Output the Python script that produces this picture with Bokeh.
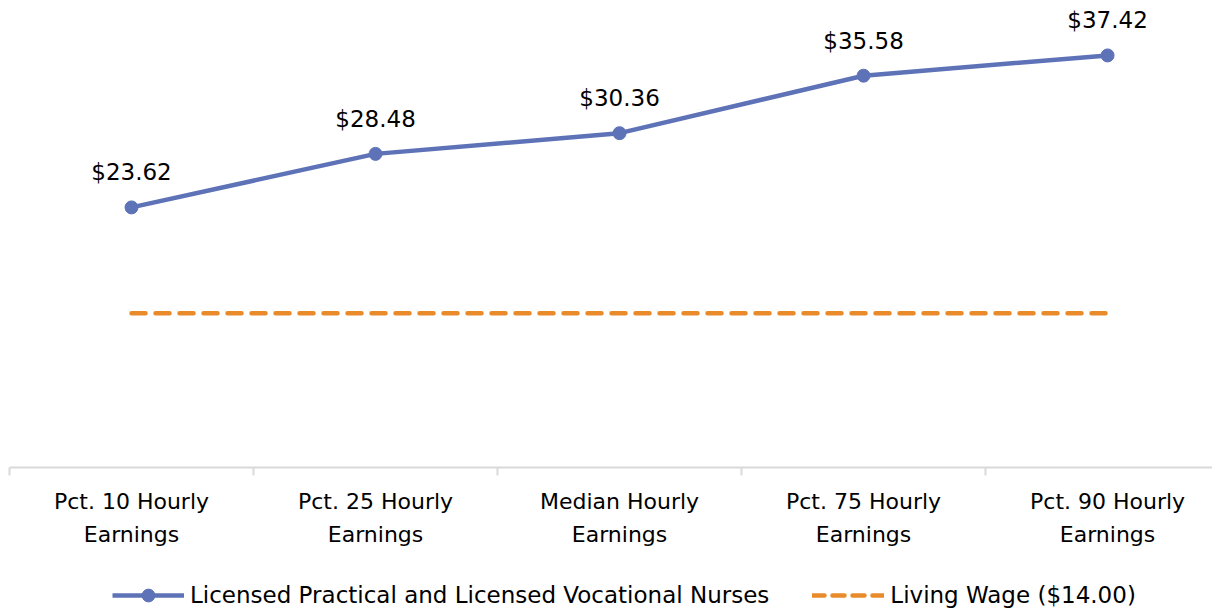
from bokeh.plotting import figure
from bokeh.layouts import column
from bokeh.models import ColumnDataSource, Range1d, FixedTicker, Legend, LegendItem, LabelSet
from bokeh.core.properties import value
from bokeh.embed import file_html
from bokeh.resources import INLINE

categories = ["Pct. 10 Hourly\nEarnings", "Pct. 25 Hourly\nEarnings", "Median Hourly\nEarnings",
              "Pct. 75 Hourly\nEarnings", "Pct. 90 Hourly\nEarnings"]
nurse_wages = [23.62, 28.48, 30.36, 35.58, 37.42]
living_wage = [14.00, 14.00, 14.00, 14.00, 14.00]
wage_labels = ["$23.62", "$28.48", "$30.36", "$35.58", "$37.42"]
series_names = ["Licensed Practical and Licensed Vocational Nurses", "Living Wage ($14.00)"]

FONT = "DejaVu Sans"
BLUE = "#5E73B7"
ORANGE = "#E98A2B"

xs = list(range(len(categories)))
src = ColumnDataSource(dict(x=xs, y=nurse_wages, lw=living_wage, lab=wage_labels))

p = figure(frame_width=1203, frame_height=457, output_backend="svg", toolbar_location=None,
           x_range=Range1d(-0.5, 4.43), y_range=Range1d(0, 41.5),
           min_border_left=9, min_border_right=0, min_border_top=10, min_border_bottom=105)
p.outline_line_color = None
p.grid.grid_line_color = None
p.yaxis.visible = False

ax = p.xaxis[0]
ax.ticker = FixedTicker(ticks=xs, minor_ticks=[-0.5, 0.5, 1.5, 2.5, 3.5, 4.5])
ax.major_label_overrides = {i: c for i, c in enumerate(categories)}
ax.major_tick_out = 0
ax.major_tick_in = 0
ax.minor_tick_out = 8
ax.minor_tick_in = 0
ax.minor_tick_line_color = "#D9D9D9"
ax.axis_line_color = "#D9D9D9"
ax.axis_line_width = 2
ax.minor_tick_line_width = 2
ax.major_label_text_font = FONT
ax.major_label_text_font_size = "22px"
ax.major_label_text_color = "#000000"
ax.major_label_text_line_height = 1.35
ax.major_label_standoff = 13

r_lw = p.line("x", "lw", source=src, line_color=ORANGE, line_width=4.5, line_dash="14 10",
              line_cap="round")
r_line = p.line("x", "y", source=src, line_color=BLUE, line_width=4.5)
r_pts = p.scatter("x", "y", source=src, size=13, fill_color=BLUE, line_color=BLUE)

labels = LabelSet(x="x", y="y", text="lab", source=src, text_align="center", text_baseline="bottom",
                  y_offset=22, text_font=value(FONT), text_font_size=value("23px"), text_color="#000000")
p.add_layout(labels)

# legend strip below the chart (its renderers sit outside the strip's visible range)
q = figure(width=1212, height=40, output_backend="svg", toolbar_location=None,
           x_range=Range1d(0, 1), y_range=Range1d(0, 1),
           min_border_left=0, min_border_right=0, min_border_top=0, min_border_bottom=0)
q.outline_line_color = None
q.grid.visible = False
q.axis.visible = False
hidden = ColumnDataSource(dict(x=[-5, -4], y=[-5, -5]))
l1 = q.line("x", "y", source=hidden, line_color=BLUE, line_width=4.5)
l2 = q.scatter("x", "y", source=hidden, size=13, fill_color=BLUE, line_color=BLUE)
l3 = q.line("x", "y", source=hidden, line_color=ORANGE, line_width=4.5, line_dash="12 8",
            line_cap="round")
legend = Legend(items=[LegendItem(label=series_names[0], renderers=[l1, l2]),
                       LegendItem(label=series_names[1], renderers=[l3])],
                orientation="horizontal", location=(103, 1),
                label_text_font=FONT, label_text_font_size="23px", label_text_color="#000000",
                glyph_width=72, glyph_height=32, label_standoff=6, spacing=43,
                border_line_color=None, background_fill_alpha=0, margin=0, padding=0)
q.add_layout(legend)

layout = column(p, q, spacing=0)
open("out.html", "w").write(file_html(layout, INLINE))
